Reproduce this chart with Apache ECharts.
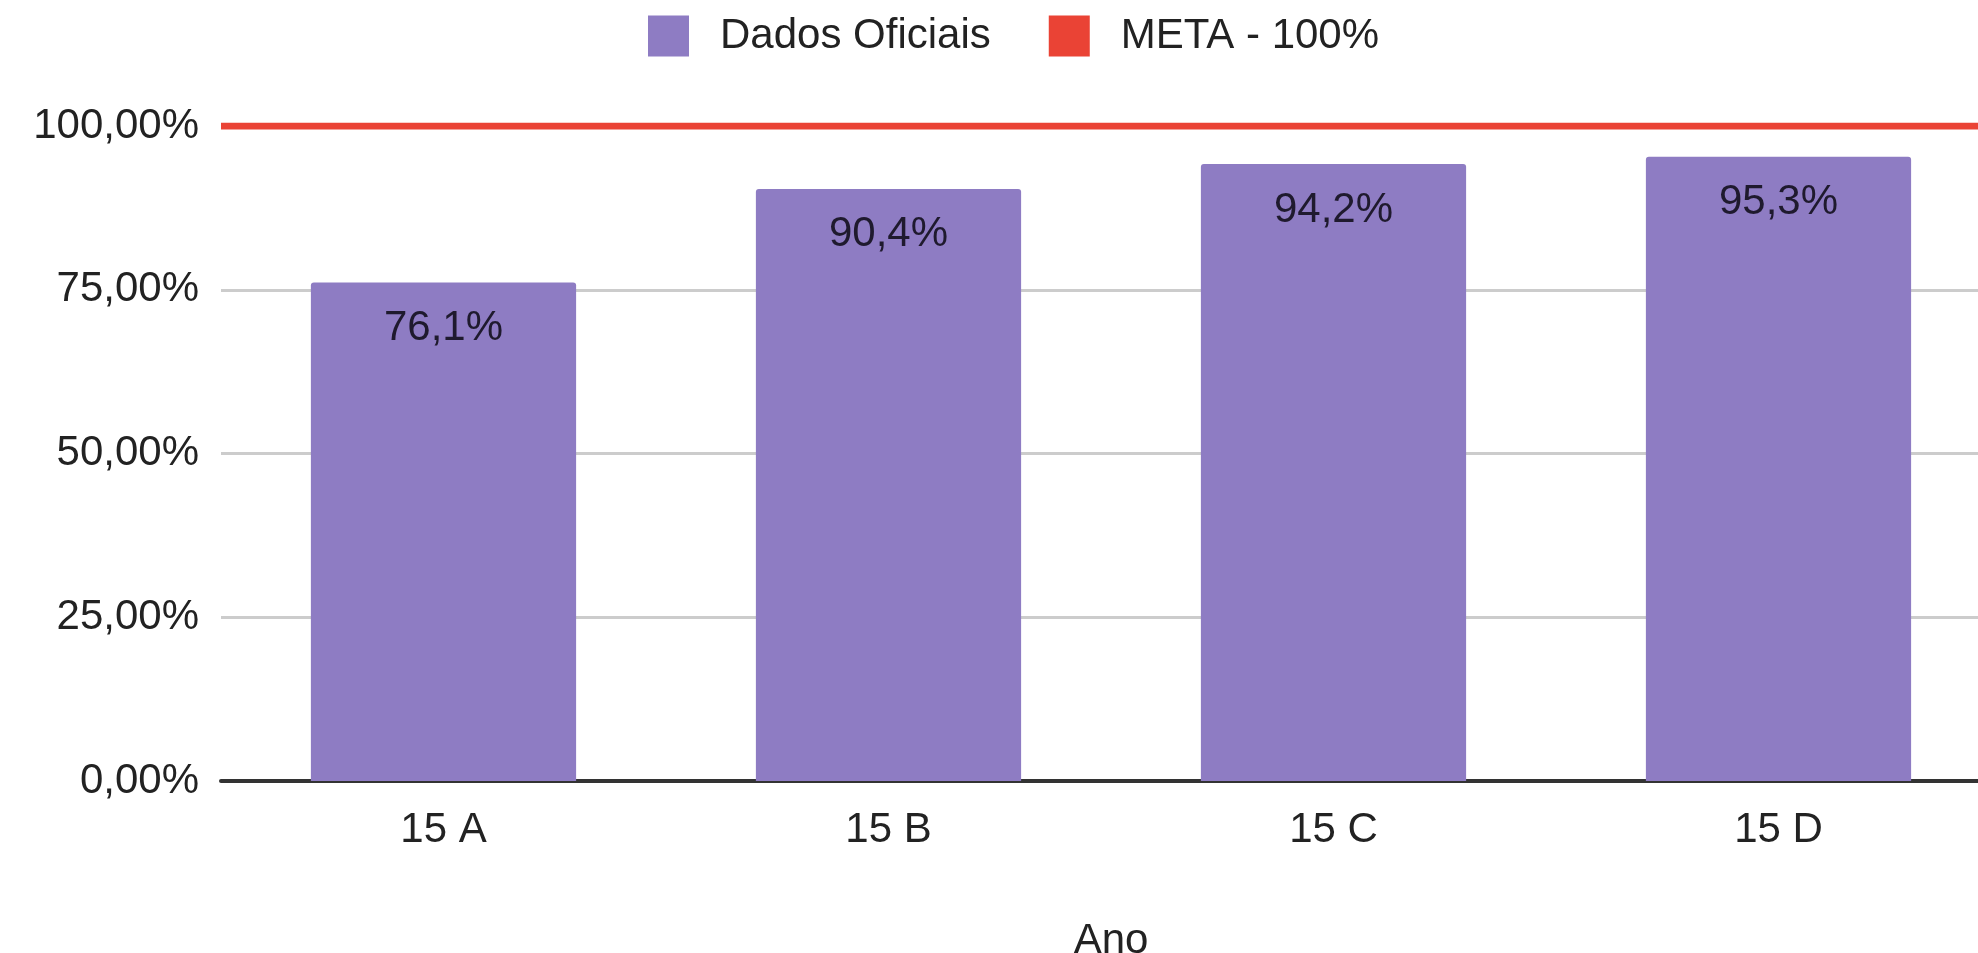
<!DOCTYPE html>
<html>
<head>
<meta charset="utf-8">
<script src="https://cdn.jsdelivr.net/npm/echarts@6/dist/echarts.min.js"></script>
<style>
  html, body { margin: 0; padding: 0; background: #ffffff; }
  #chart { width: 1978px; height: 953px; }
</style>
</head>
<body>
<div id="chart"></div>
<script>
// Turmas (eixo X) e percentuais oficiais
const categories = ['15 A', '15 B', '15 C', '15 D'];
const dadosOficiais = [76.1, 90.4, 94.2, 95.3];
const meta = [100, 100, 100, 100];
const yTicks = [0, 25, 50, 75, 100];

const FONT = 'Liberation Sans, Arial, sans-serif';
const TXT = '#222222';

function pct2(v) { return v.toFixed(2).replace('.', ',') + '%'; }
function pct1(v) { return v.toFixed(1).replace('.', ',') + '%'; }

const chart = echarts.init(document.getElementById('chart'), null, { renderer: 'canvas' });

chart.setOption({
  animation: false,
  backgroundColor: '#ffffff',
  textStyle: { fontFamily: FONT },
  legend: {
    top: 10,
    left: 643,
    itemWidth: 41,
    itemHeight: 41,
    itemGap: 58,
    icon: 'rect',
    textStyle: { fontFamily: FONT, fontSize: 42, color: TXT, padding: [0, 0, 0, 26] },
    data: ['Dados Oficiais', 'META - 100%']
  },
  grid: {
    left: 221,
    right: -23,
    top: 126,
    bottom: 172,
    containLabel: false,
    outerBoundsMode: 'none'
  },
  xAxis: [
    {
      type: 'category',
      data: categories,
      name: 'Ano',
      nameLocation: 'middle',
      nameGap: 139,
      nameTextStyle: { fontFamily: FONT, fontSize: 42, color: TXT },
      axisTick: { show: false },
      axisLine: { lineStyle: { color: '#333333', width: 4 } },
      axisLabel: { fontFamily: FONT, fontSize: 42, color: TXT, margin: 28 }
    },
    {
      type: 'category',
      data: categories,
      boundaryGap: false,
      show: false
    }
  ],
  yAxis: {
    type: 'value',
    min: yTicks[0],
    max: yTicks[yTicks.length - 1],
    interval: 25,
    axisLine: { show: false },
    axisTick: { show: false },
    splitLine: { lineStyle: { color: '#cccccc', width: 3 } },
    axisLabel: {
      fontFamily: FONT, fontSize: 42, color: TXT, margin: 22,
      formatter: pct2
    }
  },
  series: [
    {
      name: 'Dados Oficiais',
      type: 'bar',
      xAxisIndex: 0,
      data: dadosOficiais,
      barCategoryGap: '40.4%',
      itemStyle: { color: '#8e7cc3', borderRadius: [3, 3, 0, 0] },
      label: {
        show: true,
        position: 'insideTop',
        distance: 25,
        fontFamily: FONT,
        fontSize: 42,
        color: '#1f1a2e',
        formatter: p => pct1(p.value)
      }
    },
    {
      name: 'META - 100%',
      type: 'line',
      xAxisIndex: 1,
      data: meta,
      symbol: 'none',
      z: 5,
      itemStyle: { color: '#ea4335' },
      lineStyle: { color: '#ea4335', width: 7 }
    }
  ]
});
</script>
</body>
</html>
